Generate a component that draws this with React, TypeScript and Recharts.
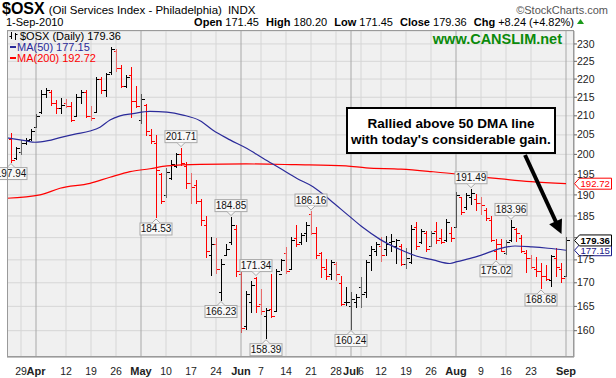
import React from "react";
import {
  ComposedChart,
  Bar,
  Line,
  XAxis,
  YAxis,
  CartesianGrid,
  ReferenceLine,
  ReferenceDot,
} from "recharts";

// trading days, index 0 = 29 Mar 2010, first bar is 25 Mar (-2), last is 1 Sep (109)
const firstIndex = -2;

const opens = [
  204, 199, 200.5, 203, 204, 207, 211, 216, 216.5, 213.5, 212, 213.5, 212.5, 210, 215, 216.5, 210, 211, 220, 217,
  222, 228, 223, 218, 221, 214, 209, 213, 205, 203, 195, 190, 194, 197, 200, 197, 193, 192.5, 188.5, 183,
  176, 178.5, 168, 176, 179, 182, 172, 161, 166, 171, 165.5, 163, 164.5, 164, 172, 176.5, 173, 180, 179, 181,
  185.5, 181, 176.5, 173, 172, 174, 170, 166, 165, 166, 169, 168, 176, 177, 178, 177.5, 179, 178, 178, 174,
  174.5, 182.5, 179, 181, 178, 181.5, 180, 179.5, 181, 182.5, 189.5, 187, 189.5, 189, 188, 186.5, 184, 177, 178.5, 176.5,
  179.5, 182, 180, 176.5, 175.5, 173, 172.5, 171.5, 170.5, 175.5, 173, 171.45,
];
const highs = [
  205.5, 202, 203.8, 204.3, 206.5, 210.6, 216.9, 217.6, 217.1, 214.2, 214.7, 214.4, 213.8, 216, 217.1, 216.9, 212.6, 220.6, 220.6, 221.8,
  229.2, 228.5, 224, 221.1, 223.5, 218, 216, 213.3, 206.6, 205, 195.3, 196.5, 198.7, 200.3, 201.71, 198, 195.3, 193.6, 189, 185,
  180.1, 180, 175.3, 178.6, 184.85, 183, 173.5, 168.2, 170.3, 171.34, 168.6, 164.6, 171.8, 173, 175.3, 177.8, 180.2, 182.8, 181, 183.5,
  186.16, 182.5, 176.7, 175.3, 175, 174.6, 171.4, 169.2, 168, 167.5, 171.3, 175, 178.2, 178.9, 180.1, 180.4, 180.8, 179.6, 178.5, 177.7,
  182.8, 183.6, 182, 181.5, 181.5, 183.5, 182, 184.4, 182.5, 190.8, 189.5, 190.5, 191.49, 190.1, 189.4, 186.9, 185, 179.7, 179.7, 179.4,
  183.96, 182.3, 180.5, 177.2, 176.1, 175.7, 174.3, 173.9, 176.1, 177.7, 174.3, 180.2,
];
const lows = [
  197.94, 198.6, 199.8, 202.3, 203.5, 206.8, 210.6, 214.7, 212.6, 210.6, 210.6, 212.1, 208.3, 210, 213.1, 209.3, 208.6, 211, 216, 215,
  221.1, 222, 217.4, 217.4, 209.5, 212, 207.8, 204.6, 202.6, 184.53, 187.8, 189.2, 193.6, 196.5, 197.2, 191.5, 187.8, 187.8, 182.7, 175.5,
  171.4, 172, 166.23, 176, 178.3, 171.3, 159.5, 160.1, 163.6, 163.6, 163.2, 158.39, 162.5, 164, 172.5, 171.8, 173, 177.8, 178.3, 179.1,
  180.5, 175.3, 171, 170.6, 170.6, 170.3, 165, 165, 160.24, 164.6, 164.6, 166.7, 172.5, 175.8, 174.6, 175.8, 176.7, 174, 173.7, 173.1,
  174.2, 177.1, 178.5, 176.7, 178, 178.5, 178.5, 179, 179, 182.4, 185.3, 186.5, 187.5, 186.2, 185.3, 183.9, 178.9, 175.02, 176.7, 176.1,
  178.9, 178.9, 176.6, 172.2, 172.9, 171.2, 168.68, 170.4, 169.2, 171.3, 170, 171.45,
];
const closes = [
  198.5, 201.5, 203, 203.8, 206, 210, 216, 217, 213.5, 212, 213, 212.5, 209, 215, 216.5, 210, 209.5, 220, 217, 221.5,
  228.5, 223, 218, 220.5, 214, 212.5, 214.5, 206, 203.5, 196, 188.6, 195.5, 197.5, 200, 197.8, 193, 192, 188.5, 184, 177,
  178.5, 173, 174, 177.5, 183, 172.5, 160.5, 167.5, 169.5, 165, 164, 164.3, 163, 172.5, 175, 172.5, 179.5, 178.5, 180.5, 183,
  181, 176, 173.5, 171.5, 174.5, 172, 165.5, 166, 166.5, 167, 167.5, 174.5, 177.5, 178.5, 176, 178.5, 179.3, 179.5, 174, 175.5,
  182, 178, 181.5, 177.5, 181, 179.5, 179, 183.5, 180, 190, 186, 190, 190.5, 188, 187.5, 184.5, 179.5, 178.5, 177, 179,
  182.5, 181, 177, 175.5, 173.5, 172.5, 171.5, 170.8, 175.8, 173.5, 171.12, 179.36,
];

// x axis: labelled sessions (Mondays and first session of each month)
const tickIndex = [0, 3, 9, 14, 19, 24, 29, 34, 39, 44, 48, 53, 58, 63, 66, 68, 72, 77, 82, 87, 92, 97, 102, 109];
const tickLabels = ["29", "Apr", "12", "19", "26", "May", "10", "17", "24", "Jun", "7", "14", "21", "28", "Jul", "6", "12", "19", "26", "Aug", "9", "16", "23", "Sep"];
const monthIndex = [3, 24, 44, 66, 87, 109];

const priceTicks = [160, 165, 170, 175, 180, 185, 190, 195, 200, 205, 210, 215, 220, 225, 230];
// this label sits under the last-close tag in the original
const hiddenPriceLabels = [180];

// moving averages
const ma50Index = [-2.8, 0.8, 2.8, 5.4, 7.8, 10.8, 13.8, 15.8, 17.8, 19.8, 22.4, 25.8, 29.2, 32.4, 35.8, 38.4, 41.8, 45.2, 48.4, 51.8, 55.2, 58.4, 61.8, 65.4, 68.4, 71.8, 75.8, 79.2, 82.4, 85.8, 87.2, 90.8, 92.2, 95.4, 98.8, 102.2, 105.4, 109];
const ma50Values = [204.2, 203.5, 203.1, 203.5, 204.3, 205.2, 206.0, 207.0, 208.9, 210.0, 210.6, 211.2, 211.0, 210.2, 208.7, 206.2, 203.7, 201.5, 199.0, 196.5, 194.0, 192.0, 188.8, 185.2, 182.3, 179.6, 177.3, 175.8, 175.0, 174.2, 174.6, 175.6, 176.1, 177.4, 178.1, 177.9, 177.6, 177.15];
const ma200Index = [-2.8, 3.8, 7.8, 13.8, 17.8, 21.8, 25.8, 29.2, 35.8, 45, 55, 65, 69, 76, 82, 87, 89, 95, 102, 109];
const ma200Values = [189.2, 190.0, 191.6, 192.8, 194.3, 195.7, 196.4, 197.1, 197.5, 197.6, 197.4, 197.1, 196.6, 196.3, 195.7, 195.1, 194.8, 194.0, 193.2, 192.72];

// swing high / low call-outs
const calloutIndex = [-2, 27, 32, 40, 42, 47, 49, 58, 66, 90, 95, 98, 104];
const calloutValues = [197.94, 184.53, 201.71, 166.23, 184.85, 171.34, 158.39, 186.16, 160.24, 191.49, 175.02, 183.96, 168.68];
const calloutSide = ["low", "low", "high", "low", "high", "high", "low", "high", "low", "high", "low", "high", "low"];

const lastClose = 179.36;
const lastMa50 = 177.15;
const lastMa200 = 192.72;

const FONT = "Arial, 'Liberation Sans', sans-serif";
const RED = "#ff0000";
const BLUE = "#2b2b9a";
const PLOT_RIGHT = 574;

const bars = opens.map((o, k) => ({
  i: k + firstIndex,
  range: [lows[k], highs[k]],
  o,
  h: highs[k],
  l: lows[k],
  c: closes[k],
  up: k > 0 && closes[k] >= closes[k - 1],
}));
const ma50Data = ma50Index.map((i, k) => ({ i, v: ma50Values[k] }));
const ma200Data = ma200Index.map((i, k) => ({ i, v: ma200Values[k] }));

function OhlcBar(props: any) {
  const { x, y, width, height, payload } = props;
  if (x == null || y == null) return null;
  const cx = Math.round(x + width / 2) + 0.5;
  const top = Math.min(y, y + height);
  const bot = Math.max(y, y + height);
  const lh = Math.log(payload.h);
  const ll = Math.log(payload.l);
  const at = (v: number) => (lh === ll ? top : top + ((bot - top) * (lh - Math.log(v))) / (lh - ll));
  const col = payload.up ? "#000" : RED;
  const yo = Math.round(at(payload.o)) + 0.5;
  const yc = Math.round(at(payload.c)) + 0.5;
  return (
    <g stroke={col} strokeWidth={1} shapeRendering="crispEdges">
      <line x1={cx} x2={cx} y1={top} y2={bot} />
      <line x1={cx - 3} x2={cx} y1={yo} y2={yo} />
      <line x1={cx} x2={cx + 3} y1={yc} y2={yc} />
    </g>
  );
}

function Callout(props: any) {
  const { cx, cy, text, side } = props;
  const w = 32;
  const h = 12;
  const bx = cx - w / 2;
  const by = side === "high" ? cy - 5 - h : cy + 5;
  const py = side === "high" ? by + h : by;
  const tip = side === "high" ? cy - 1 : cy + 1;
  return (
    <g>
      <rect x={bx} y={by} width={w} height={h} fill="#f8f8f8" stroke="#a8a8a8" />
      <path d={`M${cx - 4},${py} L${cx},${tip} L${cx + 4},${py}`} fill="#f8f8f8" stroke="#a8a8a8" />
      <text x={cx} y={by + 9.5} textAnchor="middle" fontSize={10} fontFamily={FONT} fill="#111">
        {text}
      </text>
    </g>
  );
}

function ValueTag(props: any) {
  const { cy, text, color, bold } = props;
  const x0 = PLOT_RIGHT;
  return (
    <g>
      <path
        d={`M${x0 + 0.5},${cy} L${x0 + 5.5},${cy - 5.5} L${x0 + 37.5},${cy - 5.5} L${x0 + 37.5},${cy + 5.5} L${x0 + 5.5},${cy + 5.5} Z`}
        fill="#fff"
        stroke={color}
      />
      <text x={x0 + 6.5} y={cy + 3.6} fontSize={9.6} fontWeight={bold ? "bold" : "normal"} fontFamily={FONT} fill={bold ? "#000" : color}>
        {text}
      </text>
    </g>
  );
}

function XTick(props: any) {
  const { x, y, payload } = props;
  const k = tickIndex.indexOf(payload.value);
  if (k < 0) return null;
  const month = monthIndex.includes(payload.value);
  return (
    <text x={x} y={y + 10} textAnchor="middle" fontSize={month ? 11 : 10.5} fontWeight={month ? "bold" : "normal"} fontFamily={FONT} fill="#222">
      {tickLabels[k]}
    </text>
  );
}

function YTick(props: any) {
  const { x, y, payload } = props;
  if (hiddenPriceLabels.includes(payload.value)) return null;
  return (
    <text x={x} y={y + 3.6} textAnchor="start" fontSize={10.5} fontFamily={FONT} fill="#222">
      {payload.value}
    </text>
  );
}

function Overlay() {
  return (
    <svg width={616} height={378} style={{ position: "absolute", left: 0, top: 0, pointerEvents: "none" }}>
      <text x={2} y={14} fontFamily={FONT} fill="#000">
        <tspan fontSize={16} fontWeight="bold">$OSX</tspan>
        <tspan fontSize={11.5} dx={4}>(Oil Services Index - Philadelphia)</tspan>
        <tspan fontSize={11.5} dx={6}>INDX</tspan>
      </text>
      <text x={608} y={14} textAnchor="end" fontSize={11} fontFamily={FONT} fill="#555">
        ©StockCharts.com
      </text>
      <text x={6} y={25.5} fontSize={11} fontFamily={FONT} fill="#000">1-Sep-2010</text>
      <text x={574} y={25.5} textAnchor="end" fontSize={11} fontFamily={FONT} fill="#000">
        <tspan fontWeight="bold">Open</tspan> 171.45 <tspan fontWeight="bold" dx={4}>High</tspan> 180.20 <tspan fontWeight="bold" dx={4}>Low</tspan> 171.45{" "}
        <tspan fontWeight="bold" dx={4}>Close</tspan> 179.36 <tspan fontWeight="bold" dx={4}>Chg</tspan> +8.24 (+4.82%)
      </text>
      <path d="M577,24 L580.5,19 L584,24 Z" fill="#1a9a1a" />

      <rect x={7.5} y={30.5} width={566} height={326} fill="none" stroke="#9a9a9a" />

      <g fontFamily={FONT} fontSize={11}>
        <g stroke="#000" strokeWidth={1}>
          <line x1={11.5} x2={11.5} y1={32} y2={39} />
          <line x1={15.5} x2={15.5} y1={33} y2={40} />
          <line x1={9.5} x2={11.5} y1={36.5} y2={36.5} />
          <line x1={15.5} x2={17.5} y1={34.5} y2={34.5} />
        </g>
        <text x={20} y={39.5} fill="#000">$OSX (Daily) 179.36</text>
        <rect x={10} y={46} width={6} height={2} fill={BLUE} />
        <text x={17} y={50.5} fill={BLUE}>MA(50) 177.15</text>
        <rect x={10} y={57} width={6} height={2} fill={RED} />
        <text x={17} y={61.5} fill={RED}>MA(200) 192.72</text>
      </g>

      <text x={562} y={44} textAnchor="end" fontSize={14.5} fontWeight="bold" fontFamily={FONT} fill="#0b8a0b">
        www.CANSLIM.net
      </text>

      <rect x={347} y={108} width={208} height={45} fill="#fff" stroke="#000" strokeWidth={2} />
      <text x={451} y={127.5} textAnchor="middle" fontSize={13.5} fontWeight="bold" fontFamily={FONT} fill="#000">
        Rallied above 50 DMA line
      </text>
      <text x={451} y={144} textAnchor="middle" fontSize={13.5} fontWeight="bold" fontFamily={FONT} fill="#000">
        with today's considerable gain.
      </text>
      <line x1={525} y1={155} x2={556} y2={222} stroke="#000" strokeWidth={4} />
      <path d="M561.5,234 L549.2,224.2 L562,218.4 Z" fill="#000" />
    </svg>
  );
}

export default function App() {
  return (
    <div style={{ position: "absolute", left: 0, top: 0, width: 616, height: 378, background: "#fff" }}>
      <ComposedChart width={616} height={378} data={bars} margin={{ top: 31, right: 0, bottom: 0, left: 7 }}>
        <CartesianGrid vertical={false} stroke="#d6d6d6" fill="#f0f0f0" />
        {tickIndex.map((t) => (
          <ReferenceLine key={t} x={t} stroke={monthIndex.includes(t) ? "#a8a8a8" : "#d6d6d6"} />
        ))}
        <XAxis
          dataKey="i"
          type="number"
          domain={[-2.8, 110.6]}
          ticks={tickIndex}
          tick={<XTick />}
          tickLine={false}
          axisLine={{ stroke: "#9a9a9a" }}
          height={21}
          interval={0}
          allowDataOverflow
        />
        <YAxis
          orientation="right"
          scale="log"
          type="number"
          domain={[154.76, 233.8]}
          ticks={priceTicks}
          width={42}
          allowDataOverflow
          interval={0}
          tickSize={3}
          tickMargin={0}
          axisLine={{ stroke: "#9a9a9a" }}
          tickLine={{ stroke: "#666" }}
          tick={<YTick />}
        />
        <Line data={ma200Data} dataKey="v" type="monotone" stroke={RED} strokeWidth={1.2} dot={false} isAnimationActive={false} />
        <Line data={ma50Data} dataKey="v" type="monotone" stroke={BLUE} strokeWidth={1.2} dot={false} isAnimationActive={false} />
        <Bar dataKey="range" barSize={4} shape={<OhlcBar />} isAnimationActive={false} />
        {calloutIndex.map((i, k) => (
          <ReferenceDot
            key={`c${i}`}
            x={i}
            y={calloutValues[k]}
            ifOverflow="visible"
            shape={(p: any) => <Callout {...p} text={calloutValues[k].toFixed(2)} side={calloutSide[k]} />}
          />
        ))}
        <ReferenceDot x={109} y={lastMa200} ifOverflow="visible" shape={(p: any) => <ValueTag {...p} text={lastMa200.toFixed(2)} color={RED} />} />
        <ReferenceDot x={109} y={lastMa50} ifOverflow="visible" shape={(p: any) => <ValueTag {...p} text={lastMa50.toFixed(2)} color="#1a1a8a" />} />
        <ReferenceDot x={109} y={lastClose} ifOverflow="visible" shape={(p: any) => <ValueTag {...p} text={lastClose.toFixed(2)} color="#000" bold />} />
      </ComposedChart>
      <Overlay />
    </div>
  );
}
